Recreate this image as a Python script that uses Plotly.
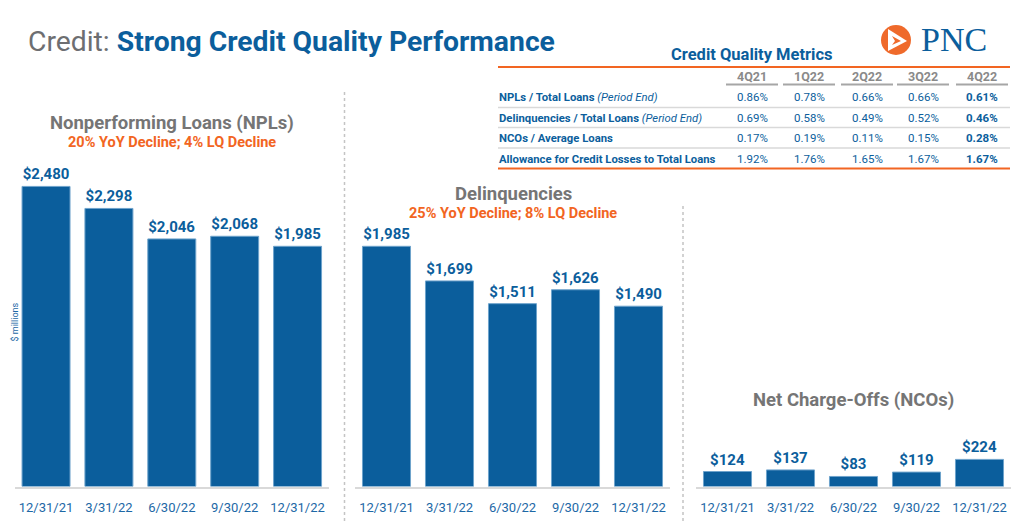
import plotly.graph_objects as go

# ---------------- data ----------------
dates = ["12/31/21", "3/31/22", "6/30/22", "9/30/22", "12/31/22"]
npl_values = [2480, 2298, 2046, 2068, 1985]
delinq_values = [1985, 1699, 1511, 1626, 1490]
nco_values = [124, 137, 83, 119, 224]

panel_titles = ["Nonperforming Loans (NPLs)", "Delinquencies", "Net Charge-Offs (NCOs)"]
panel_subtitles = ["20% YoY Decline; 4% LQ Decline", "25% YoY Decline; 8% LQ Decline", ""]

table_title = "Credit Quality Metrics"
table_quarters = ["4Q21", "1Q22", "2Q22", "3Q22", "4Q22"]
table_row_labels = [
    "<b>NPLs / Total Loans</b> <i>(Period End)</i>",
    "<b>Delinquencies / Total Loans</b> <i>(Period End)</i>",
    "<b>NCOs / Average Loans</b>",
    "<b>Allowance for Credit Losses to Total Loans</b>",
]
npl_ratio = ["0.86%", "0.78%", "0.66%", "0.66%", "0.61%"]
delinq_ratio = ["0.69%", "0.58%", "0.49%", "0.52%", "0.46%"]
nco_ratio = ["0.17%", "0.19%", "0.11%", "0.15%", "0.28%"]
allowance_ratio = ["1.92%", "1.76%", "1.65%", "1.67%", "1.67%"]
table_rows = [npl_ratio, delinq_ratio, nco_ratio, allowance_ratio]

# ---------------- style ----------------
W, H = 1024, 523
OFF = 8  # page body margin
BLUE = "#0b5e9c"
TICK_BLUE = "#1d68a6"
ORANGE = "#f26522"
GRAY = "#757575"
FONT = "Roboto"


def px(x):
    return (x - OFF) / W


def py(y):
    return 1 - (y - OFF) / H


fig = go.Figure()

series = [npl_values, delinq_values, nco_values]
x_domains = [(14.6, 329), (355, 670), (696, 1011)]
y_dom = (py(486.5), py(123.5))

for i, vals in enumerate(series):
    n = "" if i == 0 else str(i + 1)
    fig.add_trace(go.Bar(
        x=dates, y=vals,
        xaxis="x" + n, yaxis="y" + n,
        marker=dict(color=BLUE, line=dict(color="#6ea3cc", width=1)),
        text=[f"${v:,}" for v in vals],
        textposition="outside",
        constraintext="none",
        cliponaxis=False,
        textfont=dict(family=FONT, size=15, color=BLUE, weight="bold"),
        hoverinfo="skip",
        showlegend=False,
    ))
    fig.update_layout(**{
        "xaxis" + n: dict(
            domain=[px(x_domains[i][0]), px(x_domains[i][1])],
            anchor="y" + n,
            showline=True, linecolor="#d9d9d9", linewidth=2,
            showgrid=False, ticks="", ticklabelstandoff=8,
            tickfont=dict(family=FONT, size=13, color=TICK_BLUE),
            fixedrange=True,
        ),
        "yaxis" + n: dict(
            domain=list(y_dom), anchor="x" + n,
            range=[0, 3000], visible=False, fixedrange=True,
        ),
    })

fig.update_layout(bargap=0.237)

annotations = []
shapes = []

# Main title
annotations.append(dict(
    x=px(26), y=py(42), xref="paper", yref="paper", xanchor="left", yanchor="middle",
    text="<span style='color:#6d6e71'>Credit: </span><b>Strong Credit Quality Performance</b>",
    font=dict(family=FONT, size=28.3, color=BLUE), showarrow=False,
))

# Panel titles
title_pos = [(172, 123, 143), (513, 194, 213), (853, 400, None)]
for (cx, ty, sy), t, s in zip(title_pos, panel_titles, panel_subtitles):
    annotations.append(dict(
        x=px(cx), y=py(ty), xref="paper", yref="paper", xanchor="center", yanchor="middle",
        text=f"<b>{t}</b>", font=dict(family=FONT, size=18.5, color=GRAY), showarrow=False,
    ))
    if s:
        annotations.append(dict(
            x=px(cx), y=py(sy), xref="paper", yref="paper", xanchor="center", yanchor="middle",
            text=f"<b>{s}</b>", font=dict(family=FONT, size=14.5, color=ORANGE), showarrow=False,
        ))

# $ millions
annotations.append(dict(
    x=px(14.5), y=py(322), xref="paper", yref="paper", xanchor="center", yanchor="middle",
    text="$ millions", textangle=-90, font=dict(family=FONT, size=9, color=TICK_BLUE),
    showarrow=False, borderpad=0,
))

# Separators
shapes.append(dict(type="line", xref="paper", yref="paper", x0=px(344.5), x1=px(344.5),
                   y0=py(92), y1=py(523), line=dict(color="#c4c4c4", width=1.5, dash="dot")))
shapes.append(dict(type="line", xref="paper", yref="paper", x0=px(683), x1=px(683),
                   y0=py(206), y1=py(523), line=dict(color="#c4c4c4", width=1.5, dash="dot")))

# Table
annotations.append(dict(
    x=px(752), y=py(55), xref="paper", yref="paper", xanchor="center", yanchor="middle",
    text=f"<b>{table_title}</b>", font=dict(family=FONT, size=16.5, color=BLUE), showarrow=False,
))
col_x = [752, 809, 867, 923, 982]
for cx, q in zip(col_x, table_quarters):
    annotations.append(dict(
        x=px(cx), y=py(76.5), xref="paper", yref="paper", xanchor="center", yanchor="middle",
        text=f"<b>{q}</b>", font=dict(family=FONT, size=12.5, color="#8a8a8a"), showarrow=False,
    ))
    shapes.append(dict(type="line", xref="paper", yref="paper", x0=px(cx - 26), x1=px(cx + 26),
                       y0=py(84.5), y1=py(84.5), line=dict(color="#a6a6a6", width=2)))

row_y = [97, 118, 138, 159]
for ry, label, vals in zip(row_y, table_row_labels, table_rows):
    annotations.append(dict(
        x=px(497), y=py(ry), xref="paper", yref="paper", xanchor="left", yanchor="middle",
        text=label, font=dict(family=FONT, size=11.3, color=BLUE), showarrow=False,
    ))
    for j, (cx, v) in enumerate(zip(col_x, vals)):
        txt = f"<b>{v}</b>" if j == len(vals) - 1 else v
        annotations.append(dict(
            x=px(cx), y=py(ry), xref="paper", yref="paper", xanchor="center", yanchor="middle",
            text=txt, font=dict(family=FONT, size=11.5, color=BLUE), showarrow=False,
        ))

for sy in [107.5, 127.5, 148]:
    shapes.append(dict(type="line", xref="paper", yref="paper", x0=px(498), x1=px(1010),
                       y0=py(sy), y1=py(sy), line=dict(color="#d9d9d9", width=1.5)))
for sy in [67, 168.5]:
    shapes.append(dict(type="line", xref="paper", yref="paper", x0=px(498), x1=px(1010),
                       y0=py(sy), y1=py(sy), line=dict(color=ORANGE, width=2)))

# Logo
cx, cy, r = 896, 40, 15
shapes.append(dict(type="circle", xref="paper", yref="paper",
                   x0=px(cx - r), x1=px(cx + r), y0=py(cy + r), y1=py(cy - r),
                   fillcolor="#ef6a2b", line=dict(width=0)))
outer = [(cx - 8, cy - 11), (cx + 11, cy + 1), (cx - 8, cy + 11)]
inner = [(cx - 4, cy - 4), (cx + 5, cy + 1), (cx - 4, cy + 5), (cx - 1, cy + 1)]
for pts, col in [(outer, "white"), (inner, "#ef6a2b")]:
    path = "M " + " L ".join(f"{px(a)},{py(b)}" for a, b in pts) + " Z"
    shapes.append(dict(type="path", xref="paper", yref="paper", path=path,
                       fillcolor=col, line=dict(width=0)))
annotations.append(dict(
    x=px(919), y=py(39), xref="paper", yref="paper", xanchor="left", yanchor="middle",
    text="PNC", font=dict(family="Liberation Serif", size=34, color=BLUE), showarrow=False,
))

fig.update_layout(
    width=W, height=H,
    margin=dict(l=0, r=0, t=0, b=0),
    paper_bgcolor="white", plot_bgcolor="white",
    annotations=annotations, shapes=shapes,
    font=dict(family=FONT),
)

fig.write_html("out.html")
